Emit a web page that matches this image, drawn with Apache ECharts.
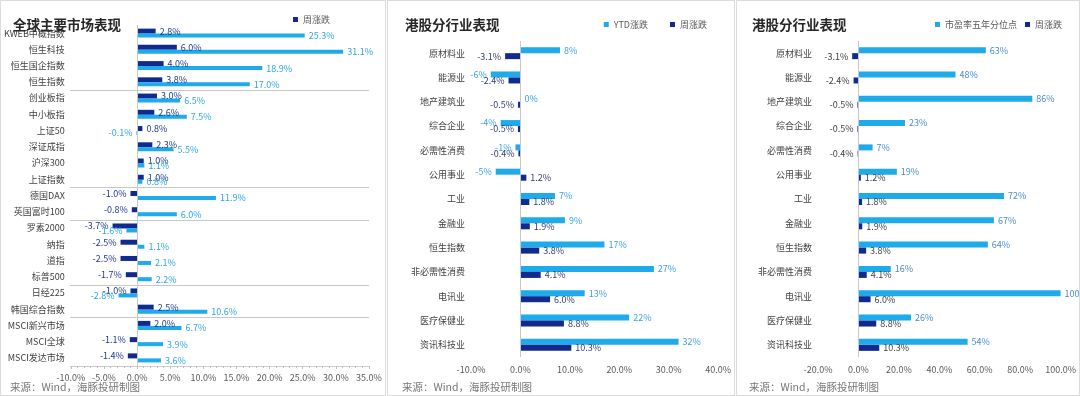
<!DOCTYPE html>
<html>
<head>
<meta charset="utf-8">
<script src="https://cdn.jsdelivr.net/npm/echarts@6/dist/echarts.min.js"></script>
<style>
  body { margin: 0; background: #fff; }
  .panel { position: absolute; top: 0; height: 396px; box-sizing: border-box; border: 1px solid #dcdcdc; }
  #p1 { left: 0; width: 386px; }
  #p2 { left: 387px; width: 348px; }
  #p3 { left: 736px; width: 344px; }
  .chart { width: 100%; height: 100%; }
</style>
</head>
<body>
<div class="panel" id="p1"><div class="chart" id="c1"></div></div>
<div class="panel" id="p2"><div class="chart" id="c2"></div></div>
<div class="panel" id="p3"><div class="chart" id="c3"></div></div>
<script>
// 全球主要市场
const marketNames = ['KWEB中概指数', '恒生科技', '恒生国企指数', '恒生指数', '创业板指', '中小板指', '上证50', '深证成指', '沪深300', '上证指数',
  '德国DAX', '英国富时100', '罗素2000', '纳指', '道指', '标普500', '日经225', '韩国综合指数', 'MSCI新兴市场', 'MSCI全球', 'MSCI发达市场'];
const marketWeek = [2.8, 6.0, 4.0, 3.8, 3.0, 2.6, 0.8, 2.3, 1.0, 1.0, -1.0, -0.8, -3.7, -2.5, -2.5, -1.7, -1.0, 2.5, 2.0, -1.1, -1.4];
const marketYtd = [25.3, 31.1, 18.9, 17.0, 6.5, 7.5, -0.1, 5.5, 1.1, 0.8, 11.9, 6.0, -1.6, 1.1, 2.1, 2.2, -2.8, 10.6, 6.7, 3.9, 3.6];
const marketGroupStarts = [4, 10, 12, 16, 18]; // 分组分隔线所在位置

// 港股分行业
const sectorNames = ['原材料业', '能源业', '地产建筑业', '综合企业', '必需性消费', '公用事业', '工业', '金融业', '恒生指数', '非必需性消费', '电讯业', '医疗保健业', '资讯科技业'];
const sectorYtd = [8, -6, 0, -4, -1, -5, 7, 9, 17, 27, 13, 22, 32];
const sectorWeek = [-3.1, -2.4, -0.5, -0.5, -0.4, 1.2, 1.8, 1.9, 3.8, 4.1, 6.0, 8.8, 10.3];
const sectorPe = [63, 48, 86, 23, 7, 19, 72, 67, 64, 16, 100, 26, 54];

const FONT = 'Noto Sans CJK SC';
const DARK = '#112a8e';
const LIGHT = '#1eaaeb';
const SOURCE = '来源：Wind，海豚投研制图';

function items(vals) {
  return vals.map(v => ({ value: v, label: { position: v < 0 ? 'left' : 'right' } }));
}
const pct1 = p => p.value.toFixed(1) + '%';
const pct0 = p => Math.round(p.value) + '%';

function barSeries(name, vals, color, width, labelColor, fmt, zeroLine) {
  const s = {
    name: name,
    type: 'bar',
    data: items(vals),
    barWidth: width,
    barGap: '0%',
    itemStyle: { color: color },
    label: { show: true, distance: 4, color: labelColor, fontSize: 9, fontFamily: FONT, formatter: fmt },
    animation: false
  };
  if (zeroLine) {
    s.markLine = {
      silent: true, symbol: 'none', label: { show: false },
      lineStyle: { color: '#c8c8c8', type: 'solid', width: 1 },
      data: [{ xAxis: 0 }]
    };
  }
  return s;
}

function titleOpt(text, left) {
  return [
    { text: text, left: left, top: 12, textStyle: { fontSize: 13.5, fontWeight: 'bold', color: '#262626', fontFamily: FONT } },
    { text: SOURCE, left: left + 2, top: 381, padding: 0, textStyle: { fontSize: 10.5, fontWeight: 'normal', color: '#777', fontFamily: FONT } }
  ];
}

function xAxisOpt(min, max, interval) {
  return {
    type: 'value', min: min, max: max, interval: interval,
    splitLine: { show: false },
    axisLine: { show: false },
    axisTick: { show: false },
    axisLabel: { fontSize: 9, color: '#595959', fontFamily: FONT, margin: 8, formatter: v => v.toFixed(1) + '%' }
  };
}

function yAxisOpt(names) {
  return {
    type: 'category', data: names, inverse: true,
    axisLine: { show: false },
    axisTick: { show: false },
    axisLabel: { fontSize: 9, color: '#404040', fontFamily: FONT, margin: 6 }
  };
}

// 图一：全球主要市场表现
const chart1 = echarts.init(document.getElementById('c1'));
const x1 = xAxisOpt(-10, 35, 5);
x1.axisLine = { show: true, lineStyle: { color: '#cfcfcf' } };
x1.axisTick = { show: true, length: 3, lineStyle: { color: '#bfbfbf' } };
x1.minorTick = { show: true, splitNumber: 5, length: 2, lineStyle: { color: '#bfbfbf' } };
x1.axisLabel.margin = 7;
const y1 = yAxisOpt(marketNames);
y1.axisTick = { show: true, length: 67, inside: false, interval: i => marketGroupStarts.includes(i), lineStyle: { color: '#c8c8c8' } };
y1.splitLine = { show: true, interval: i => marketGroupStarts.includes(i), lineStyle: { color: '#c8c8c8' } };
chart1.setOption({
  title: titleOpt('全球主要市场表现', 7),
  legend: {
    data: ['周涨跌'], right: 50, top: 9, itemWidth: 5, itemHeight: 5, icon: 'rect',
    textStyle: { fontSize: 9, color: '#595959', fontFamily: FONT }
  },
  grid: { left: 67, right: 16, top: 24, bottom: 29 },
  xAxis: x1,
  yAxis: y1,
  series: [
    barSeries('周涨跌', marketWeek, DARK, 5, '#1f3a8a', pct1, true),
    barSeries('YTD涨跌', marketYtd, LIGHT, 4, '#2ea6e0', pct1, false)
  ]
});

// 图二：港股分行业表现（YTD）
const chart2 = echarts.init(document.getElementById('c2'));
chart2.setOption({
  title: titleOpt('港股分行业表现', 12),
  legend: {
    data: ['YTD涨跌', '周涨跌'], right: 22, top: 14, itemWidth: 5, itemHeight: 5, icon: 'rect', itemGap: 22,
    textStyle: { fontSize: 9, color: '#595959', fontFamily: FONT }
  },
  grid: { left: 83, right: 13, top: 40, bottom: 38 },
  xAxis: xAxisOpt(-10, 40, 10),
  yAxis: yAxisOpt(sectorNames),
  series: [
    barSeries('YTD涨跌', sectorYtd, LIGHT, 6, '#3aa3e0', pct0, true),
    barSeries('周涨跌', sectorWeek, DARK, 6, '#34406e', pct1, false)
  ]
});

// 图三：港股分行业表现（市盈率分位点）
const chart3 = echarts.init(document.getElementById('c3'));
chart3.setOption({
  title: titleOpt('港股分行业表现', 10),
  legend: {
    data: ['市盈率五年分位点', '周涨跌'], right: 12, top: 14, itemWidth: 5, itemHeight: 5, icon: 'rect', itemGap: 8,
    textStyle: { fontSize: 9, color: '#595959', fontFamily: FONT }
  },
  grid: { left: 81, right: 15, top: 40, bottom: 38 },
  xAxis: xAxisOpt(-20, 100, 20),
  yAxis: yAxisOpt(sectorNames),
  series: [
    barSeries('市盈率五年分位点', sectorPe, LIGHT, 6, '#4a8ccc', pct0, true),
    barSeries('周涨跌', sectorWeek, DARK, 6, '#404040', pct1, false)
  ]
});
</script>
</body>
</html>
